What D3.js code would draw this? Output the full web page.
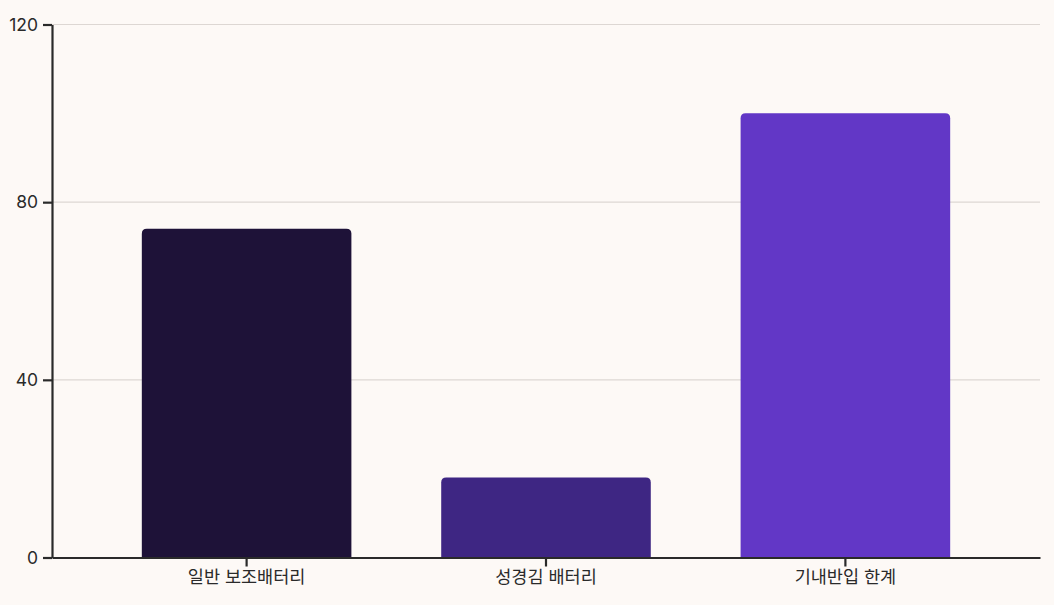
<!DOCTYPE html>
<html>
<head>
<meta charset="utf-8">
<script src="https://cdn.jsdelivr.net/npm/d3@7"></script>
<style>
  html, body { margin: 0; padding: 0; background: #fdf9f6; }
  svg { display: block; }
  text { font-family: Inter, "Noto Sans CJK KR", sans-serif; }
</style>
</head>
<body>
<svg id="chart"></svg>
<script>
const categories = ['일반 보조배터리', '성경김 배터리', '기내반입 한계'];
const values = [74, 18, 100];
const barColors = ['#1e1238', '#3e2683', '#6237c6'];
const yTicks = [0, 40, 80, 120];

const width = 1054, height = 605;
const margin = {top: 24.5, right: 14, bottom: 47.5, left: 52};

const svg = d3.select('#chart')
    .attr('width', width)
    .attr('height', height);

const inner_width = width - margin.left - margin.right;
const inner_height = height - margin.top - margin.bottom;

const chart = svg.append('g')
    .attr('transform', `translate(${margin.left}, ${margin.top})`);

const xscale = d3.scaleBand()
    .domain(categories)
    .range([0, inner_width])
    .paddingInner(0.3)
    .paddingOuter(0.3);

const yscale = d3.scaleLinear()
    .domain([0, 120])
    .range([inner_height, 0]);

// gridlines
chart.append('g')
    .selectAll('line')
    .data(yTicks.filter(d => d > 0))
    .join('line')
    .attr('x1', 0)
    .attr('x2', inner_width)
    .attr('y1', d => yscale(d))
    .attr('y2', d => yscale(d))
    .attr('stroke', '#ddd7d3')
    .attr('stroke-width', 1.2);

// bars with rounded top corners
const r = 5;
const data = categories.map((c, i) => ({cat: c, value: values[i], color: barColors[i]}));
chart.selectAll('.bar')
    .data(data)
    .join('path')
    .attr('class', 'bar')
    .attr('fill', d => d.color)
    .attr('d', d => {
        const x0 = xscale(d.cat), x1 = x0 + xscale.bandwidth();
        const y0 = yscale(d.value), yb = yscale(0);
        return `M${x0},${yb} L${x0},${y0 + r} Q${x0},${y0} ${x0 + r},${y0} L${x1 - r},${y0} Q${x1},${y0} ${x1},${y0 + r} L${x1},${yb} Z`;
    });

const xaxis = d3.axisBottom(xscale).tickSize(9).tickSizeOuter(0).tickPadding(4);
const yaxis = d3.axisLeft(yscale).tickValues(yTicks).tickSize(9).tickSizeOuter(0).tickPadding(5);

const xg = chart.append('g')
    .attr('transform', `translate(0, ${inner_height})`)
    .call(xaxis);
const yg = chart.append('g').call(yaxis);

[xg, yg].forEach(g => {
    g.select('.domain').attr('stroke', '#2a2a2a').attr('stroke-width', 2.2);
    g.selectAll('.tick line').attr('stroke', '#2a2a2a').attr('stroke-width', 2.2);
    g.selectAll('.tick text')
        .attr('fill', '#2a2a2a')
        .style('font-size', '17.5px')
        .style('font-family', 'Inter, "Noto Sans CJK KR", sans-serif');
});
</script>
</body>
</html>
